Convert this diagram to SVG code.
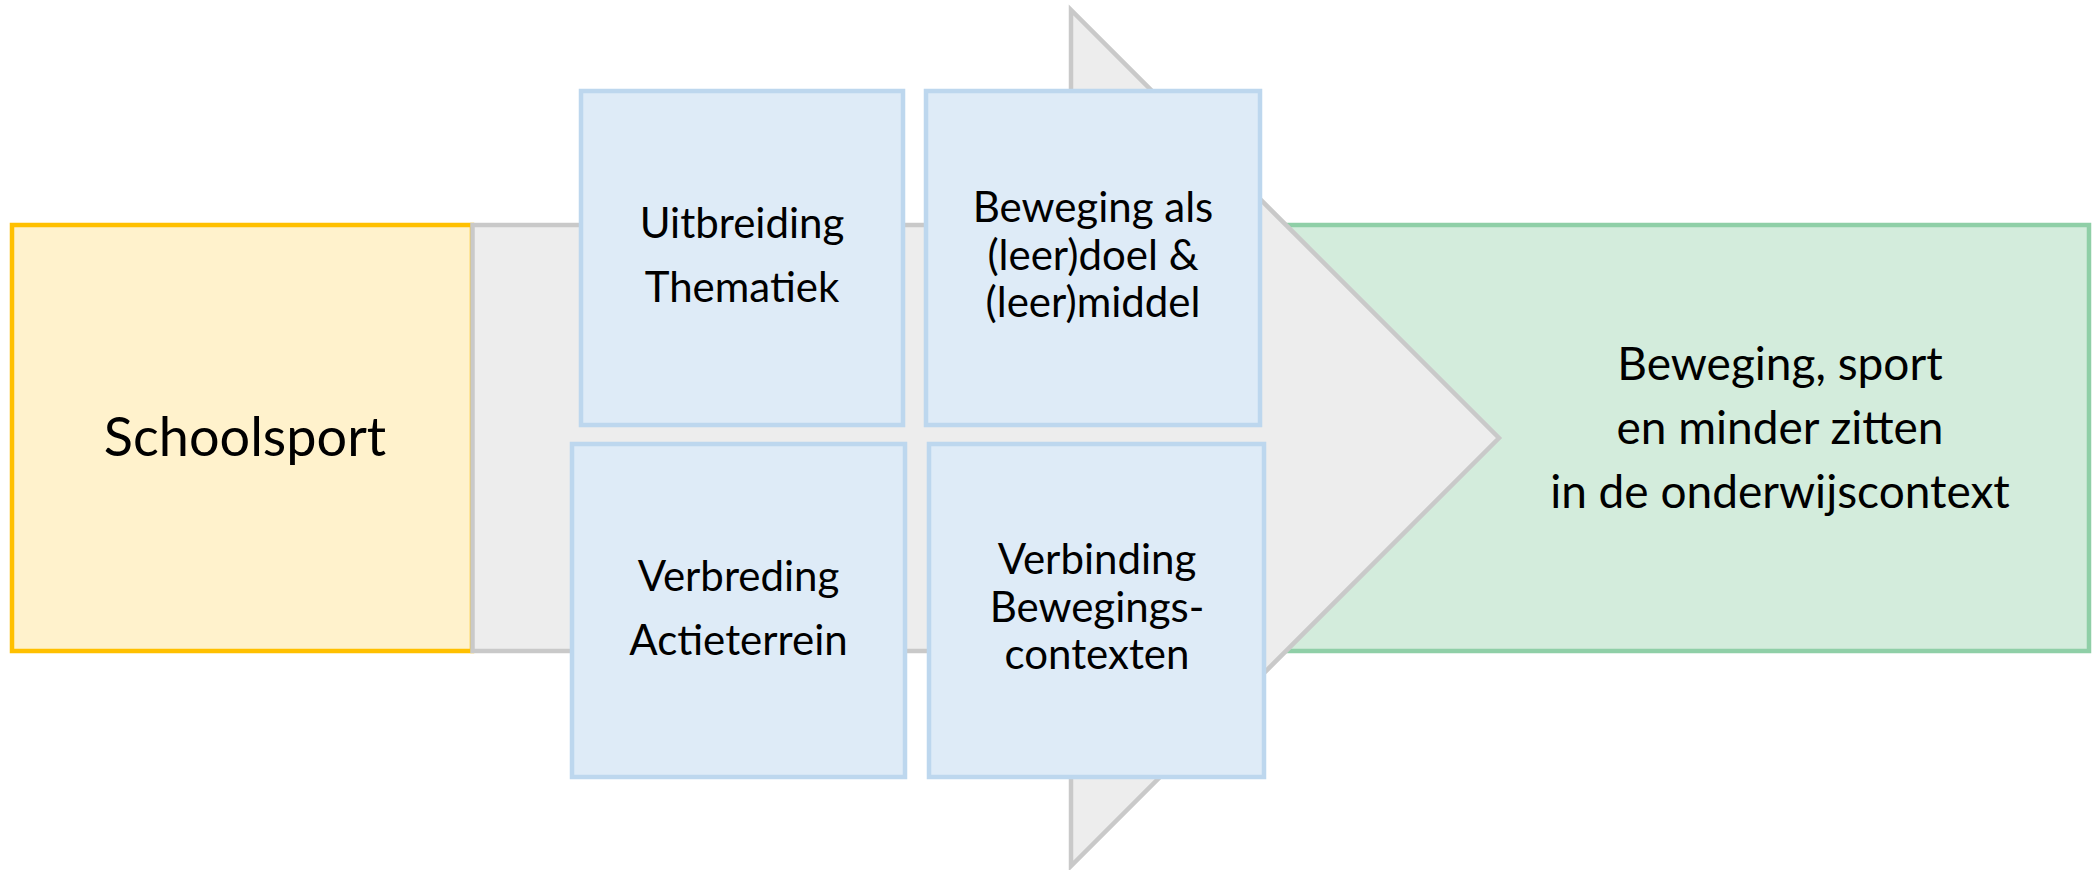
<svg xmlns="http://www.w3.org/2000/svg" width="2092" height="870" viewBox="0 0 2092 870">
<style>
.t{font-family:Lato,"Open Sans","Liberation Sans",sans-serif;fill:#000;text-anchor:middle}
.blue{fill:#DEEBF7;stroke:#BDD7EE;stroke-width:4.5}
.bt{font-size:42px}
.gt{font-size:46px}
</style>
<rect width="2092" height="870" fill="#FFFFFF"/>
<g id="result">
<rect x="1200" y="225" width="889" height="426" fill="#D3ECDC" stroke="#8FCFA7" stroke-width="4.5"/>
<text class="t gt" x="1780" y="380">Beweging, sport</text>
<text class="t gt" x="1780" y="444">en minder zitten</text>
<text class="t gt" x="1780" y="508">in de onderwijscontext</text>
</g>
<g id="schoolsport">
<rect x="12" y="225" width="460" height="426" fill="#FFF2CC" stroke="#FFC000" stroke-width="4.5"/>
<text class="t" x="245" y="456" font-size="54">Schoolsport</text>
</g>
<g id="connectors">
<polygon points="472.5,225 1071,225 1071,10 1499,438 1071,866 1071,651 472.5,651" fill="#EDEDED" stroke="#C9C9C9" stroke-width="4.5" stroke-linejoin="miter"/>
</g>
<g id="uitbreiding">
<rect class="blue" x="581" y="91" width="322" height="334"/>
<text class="t bt" x="742" y="238">Uitbreiding</text>
<text class="t bt" x="742" y="302">Thematiek</text>
</g>
<g id="beweging">
<rect class="blue" x="926" y="91" width="334" height="334"/>
<text class="t bt" x="1093" y="222">Beweging als</text>
<text class="t bt" x="1093" y="269.5">(leer)doel &amp;</text>
<text class="t bt" x="1093" y="317">(leer)middel</text>
</g>
<g id="verbreding">
<rect class="blue" x="572" y="444" width="333" height="333"/>
<text class="t bt" x="738.5" y="591">Verbreding</text>
<text class="t bt" x="738.5" y="655">Actieterrein</text>
</g>
<g id="verbinding">
<rect class="blue" x="929" y="444" width="335" height="333"/>
<text class="t bt" x="1097" y="574">Verbinding</text>
<text class="t bt" x="1097" y="621.5">Bewegings-</text>
<text class="t bt" x="1097" y="669">contexten</text>
</g>
</svg>
